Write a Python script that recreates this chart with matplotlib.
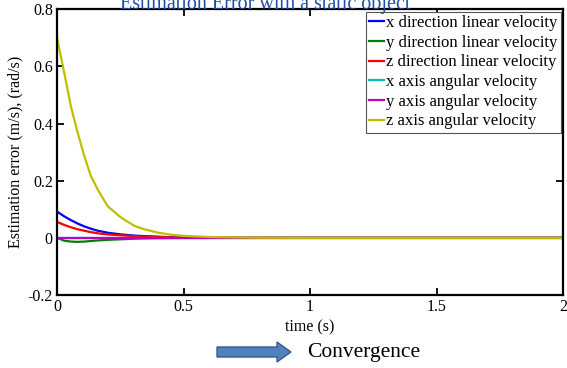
import numpy as np
import matplotlib
matplotlib.use('Agg')
import matplotlib.pyplot as plt
from matplotlib.patches import FancyArrow

plt.rcParams['font.family'] = ['Liberation Serif', 'DejaVu Serif']

# values
t = [0.0, 0.029, 0.055, 0.082, 0.108, 0.134, 0.161, 0.20, 0.253, 0.306,
     0.345, 0.40, 0.45, 0.50, 0.60, 0.70, 0.80, 1.0, 1.5, 2.0]
x_lin = [0.092, 0.075, 0.062, 0.050, 0.040, 0.032, 0.025, 0.018, 0.012, 0.008,
         0.006, 0.004, 0.002, 0.001, 0.0005, 0.0, 0.0, 0.0, 0.0, 0.0]
y_lin = [0.0, -0.010, -0.013, -0.014, -0.013, -0.011, -0.009, -0.007, -0.005,
         -0.003, -0.002, -0.001, -0.0005, 0.0, 0.0, 0.0, 0.0, 0.0, 0.0, 0.0]
z_lin = [0.056, 0.045, 0.037, 0.030, 0.025, 0.020, 0.016, 0.012, 0.009, 0.006,
         0.004, 0.003, 0.002, 0.001, 0.0005, 0.0, 0.0, 0.0, 0.0, 0.0]
x_ang = [0.0] * len(t)
y_ang = [0.0] * len(t)
z_ang = [0.70, 0.576, 0.46, 0.367, 0.286, 0.216, 0.169, 0.111, 0.071, 0.042,
         0.030, 0.018, 0.011, 0.007, 0.003, 0.0015, 0.0005, 0.0, 0.0, 0.0]

labels = ['x direction linear velocity', 'y direction linear velocity',
          'z direction linear velocity', 'x axis angular velocity',
          'y axis angular velocity', 'z axis angular velocity']
colors = ['#0000ff', '#008000', '#ff0000', '#00bfbf', '#bf00bf', '#bfbf00']
series = [x_lin, y_lin, z_lin, x_ang, y_ang, z_ang]

W, H = 567, 368
fig = plt.figure(figsize=(W / 100, H / 100), dpi=100)
ax = fig.add_axes([57 / W, 1 - 295 / H, (563 - 57) / W, (295 - 9.3) / H])

for s, c, lab in zip(series, colors, labels):
    ax.plot(t, s, color=c, lw=1.6, label=lab)

ax.set_xlim(0, 2)
ax.set_ylim(-0.2, 0.8)
ax.set_xticks([0, 0.5, 1, 1.5, 2])
ax.set_xticklabels(['0', '0.5', '1', '1.5', '2'])
ax.set_yticks([-0.2, 0, 0.2, 0.4, 0.6, 0.8])
ax.set_yticklabels(['-0.2', '0', '0.2', '0.4', '0.6', '0.8'])
ax.tick_params(direction='in', length=5, width=1.3, top=True, right=True,
               labelsize=11.5, pad=3)
for sp in ax.spines.values():
    sp.set_linewidth(1.6)

ax.set_xlabel('time (s)', fontsize=11.5, labelpad=3)
ax.set_ylabel('Estimation error (m/s), (rad/s)', fontsize=11.5, labelpad=3)

leg = ax.legend(loc='upper right', fontsize=12, handlelength=0.9,
                handletextpad=0.1, labelspacing=0.22, borderpad=0.2,
                borderaxespad=0.15, fancybox=False, framealpha=1)
leg.get_frame().set_edgecolor('#555555')
leg.get_frame().set_linewidth(0.8)

fig.text(265 / W, 1 - 9.5 / H, 'Estimation Error with a static object',
         ha='center', va='baseline', fontsize=14.5, color='#1f4e9e')

arrow = FancyArrow(217 / W, 1 - 352 / H, 60 / W, 0, width=10 / H,
                   head_width=20 / H, head_length=14 / W,
                   length_includes_head=False, transform=fig.transFigure,
                   facecolor='#4f81bd', edgecolor='#385d8a', lw=1)
fig.add_artist(arrow)
fig.text(307 / W, 1 - 353 / H, 'Convergence', ha='left', va='center',
         fontsize=15.5)

fig.savefig('out.png', dpi=100)
